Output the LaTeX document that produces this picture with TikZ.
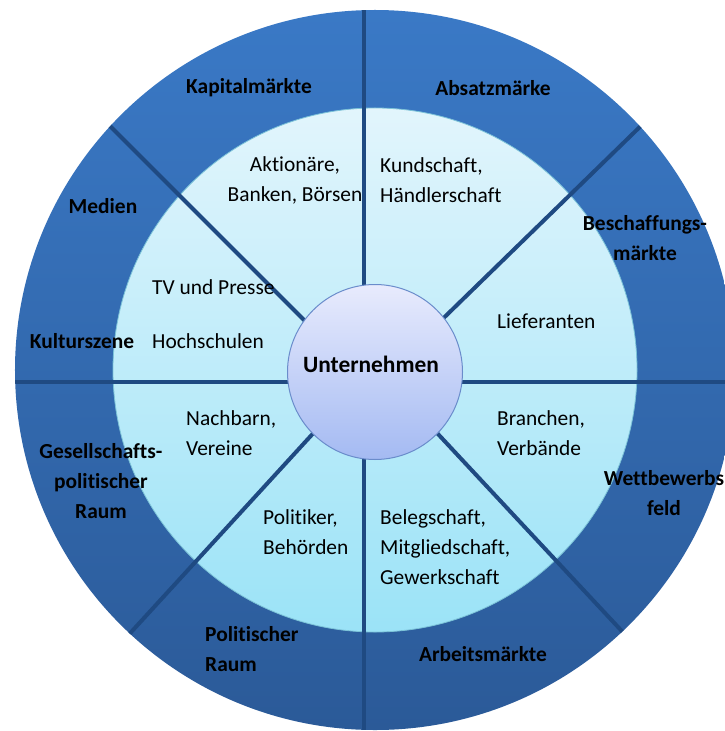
\documentclass[tikz,border=0pt]{standalone}
\usepackage{fontspec}
\setmainfont{Carlito}[Ligatures=NoCommon]
\usetikzlibrary{positioning}

\definecolor{ringtop}{HTML}{3A79C6}
\definecolor{ringbot}{HTML}{2B5A98}
\definecolor{spokeblue}{HTML}{1F4A82}
\definecolor{cyantop}{HTML}{E2F5FC}
\definecolor{cyanbot}{HTML}{9BE3F7}
\definecolor{cyanline}{HTML}{7CC3D8}
\definecolor{coretop}{HTML}{E8EBFD}
\definecolor{corebot}{HTML}{A4BAF2}
\definecolor{coreline}{HTML}{6A8CCB}

\begin{document}
\begin{tikzpicture}[x=1bp,y=1bp,
  disc/.style={circle,inner sep=0pt,outer sep=0pt},
  spoke/.style={draw=spokeblue,line width=4bp},
  outlabel/.style={font=\fontsize{21.5}{30}\selectfont\bfseries,align=center,inner sep=0pt},
  inlabel/.style={font=\fontsize{21.5}{30}\selectfont,align=left,inner sep=0pt,anchor=west}
]
\useasboundingbox (0,0) rectangle (725,-731);

% Rings
\node[disc,minimum size=720bp,top color=ringtop,bottom color=ringbot] (outer) at (375,-370) {};
\node[disc,minimum size=524bp,top color=cyantop,bottom color=cyanbot,draw=cyanline,line width=0.8bp] (inner) at (375,-370) {};

% Spoke end points
\coordinate (top) at (364,0);
\coordinate (bottom) at (364,-731);
\coordinate (left) at (0,-382);
\coordinate (right) at (740,-382);
\coordinate (nw) at (60,-76);
\coordinate (nwin) at (365,-381);
\coordinate (ne) at (688,-80);
\coordinate (nein) at (420,-341);
\coordinate (se) at (660,-672);
\coordinate (sein) at (410,-404);
\coordinate (sw) at (90,-677);
\coordinate (swin) at (340,-404);

\begin{scope}
  \clip (outer.center) circle[radius=360];
  \foreach \a/\b in {top/bottom,left/right,nw/nwin,ne/nein,se/sein,sw/swin}
    \draw[spoke] (\a) -- (\b);
\end{scope}

% Centre
\node[disc,minimum size=175bp,top color=coretop,bottom color=corebot,draw=coreline,line width=1bp] (core) at (375,-372) {};
\node[outlabel,font=\fontsize{23.5}{30}\selectfont\bfseries] (firm) at (371,-364) {Unternehmen};

% Outer ring labels
\node[outlabel] (kapital) at (249,-88) {Kapitalmärkte};
\node[outlabel] (absatz) at (493,-88) {Absatzmärke};
\node[outlabel] (medien) at (103,-206) {Medien};
\node[outlabel] (kultur) at (82,-341) {Kulturszene};
\node[outlabel] (beschaffung) at (645,-238) {Beschaffungs-\\märkte};
\node[outlabel] (wettbewerb) at (664,-493) {Wettbewerbs\\feld};
\node[outlabel] (gesellschaft) at (101,-481) {Gesellschafts-\\politischer\\Raum};
\node[outlabel,align=left,anchor=west] (politik) at (205,-649) {Politischer\\Raum};
\node[outlabel] (arbeit) at (483,-654) {Arbeitsmärkte};

% Inner ring labels
\node[inlabel,align=center,anchor=center] (aktionaere) at (295,-180) {Aktionäre,\\Banken, Börsen};
\node[inlabel] (kunden) at (380,-180) {Kundschaft,\\Händlerschaft};
\node[inlabel] (presse) at (152,-287) {TV und Presse};
\node[inlabel] (hochschulen) at (152,-341) {Hochschulen};
\node[inlabel] (lieferanten) at (497,-321) {Lieferanten};
\node[inlabel] (nachbarn) at (186,-433) {Nachbarn,\\Vereine};
\node[inlabel] (branchen) at (497,-433) {Branchen,\\Verbände};
\node[inlabel] (politiker) at (263,-532) {Politiker,\\Behörden};
\node[inlabel] (belegschaft) at (380,-547) {Belegschaft,\\Mitgliedschaft,\\Gewerkschaft};
\end{tikzpicture}
\end{document}
